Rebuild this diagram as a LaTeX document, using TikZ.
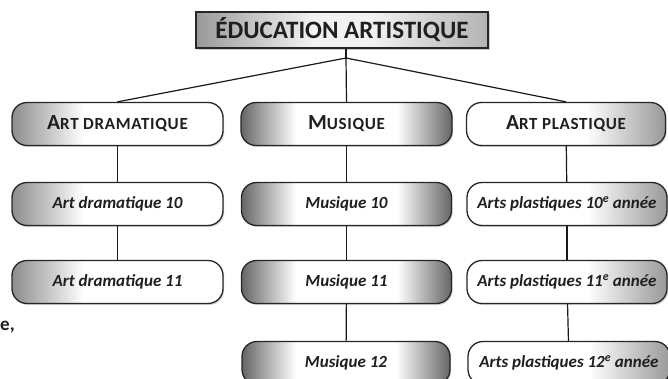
\documentclass[tikz,border=0pt]{standalone}
\usepackage{fontspec}
\setmainfont{Carlito}
\usetikzlibrary{shadows}
\newcommand\mysc[2]{{\addfontfeature{LetterSpace=4}\fontsize{21.5}{24}\selectfont #1}{\addfontfeature{LetterSpace=4}\fontsize{17}{19}\selectfont #2}}
\pgfdeclarehorizontalshading{shL}{100bp}{color(0bp)=(black!45); color(25bp)=(black!45); color(42bp)=(white); color(100bp)=(white)}
\pgfdeclarehorizontalshading{shM}{100bp}{color(0bp)=(black!60); color(25bp)=(black!60); color(38bp)=(white); color(62bp)=(white); color(75bp)=(black!60); color(100bp)=(black!60)}
\pgfdeclarehorizontalshading{shR}{100bp}{color(0bp)=(white); color(55bp)=(white); color(75bp)=(black!40); color(100bp)=(black!40)}
\pgfdeclarehorizontalshading{shT}{100bp}{color(0bp)=(black!40); color(25bp)=(black!40); color(45bp)=(black!5); color(55bp)=(black!5); color(75bp)=(black!30); color(100bp)=(black!30)}
\begin{document}
\begin{tikzpicture}[x=1pt,y=-1pt,
  box/.style={draw=black!85, line width=1.3pt, rounded corners=15pt, minimum height=43pt,
    inner sep=0pt, text=black!88,
    drop shadow={shadow xshift=1.2pt, shadow yshift=-1.5pt, opacity=0.35}},
  lvl/.style={box, font=\fontsize{17}{20}\selectfont\bfseries\itshape},
  head/.style={box, font=\bfseries},
  lgrad/.style={shading=shL},
  mgrad/.style={shading=shM},
  rgrad/.style={shading=shR},
  conn/.style={draw=black!90, line width=1.2pt}]
\useasboundingbox[fill=white] (0,0) rectangle (668,379);
\clip (0,0) rectangle (668,379);

% top
\node[draw=black!85, line width=2pt, minimum width=292pt, minimum height=36pt, inner sep=0pt,
  shading=shT, text=black!88,
  font=\fontsize{25}{28}\selectfont\bfseries,
  drop shadow={shadow xshift=1.5pt, shadow yshift=-2pt, opacity=0.4}]
  (top) at (342,30) {ÉDUCATION ARTISTIQUE};
\coordinate (hub) at (346,58);

% level 1
\node[head, lgrad, minimum width=211pt] (ad) at (117.5,124) {\mysc{A}{RT DRAMATIQUE}};
\node[head, mgrad, minimum width=211pt] (mu) at (346.5,124) {\mysc{M}{USIQUE}};
\node[head, rgrad, minimum width=199pt] (ap) at (566,124) {\mysc{A}{RT PLASTIQUE}};

% level 2
\node[lvl, lgrad, minimum width=211pt] (ad1) at (117.5,204) {Art dramatique 10};
\node[lvl, mgrad, minimum width=210pt] (mu1) at (346.5,204) {Musique 10};
\node[lvl, rgrad, minimum width=200pt] (ap1) at (567,204) {Arts plastiques 10\textsuperscript{e} année};

% level 3
\node[lvl, lgrad, minimum width=211pt] (ad2) at (117.5,282) {Art dramatique 11};
\node[lvl, mgrad, minimum width=210pt] (mu2) at (346.5,282) {Musique 11};
\node[lvl, rgrad, minimum width=200pt] (ap2) at (567,282) {Arts plastiques 11\textsuperscript{e} année};

% level 4
\node[lvl, mgrad, minimum width=208pt] (mu3) at (346,363) {Musique 12};
\node[lvl, rgrad, minimum width=202pt] (ap3) at (569,363) {Arts plastiques 12\textsuperscript{e} année};

% stray text
\node[font=\fontsize{19}{22}\selectfont\bfseries, text=black!88, inner sep=0pt, anchor=west] (frag) at (0,327) {e,};

% connectors
\draw[conn] (top.south -| hub) -- (hub);
\draw[conn] (hub) -- (ad.north);
\draw[conn] (hub) -- (mu.north);
\draw[conn] (hub) -- (ap.north);
\draw[conn] (ad) -- (ad1);
\draw[conn] (ad1) -- (ad2);
\draw[conn] (mu) -- (mu1);
\draw[conn] (mu1) -- (mu2);
\draw[conn] (mu2) -- (mu3);
\draw[conn] (ap) -- (ap1);
\draw[conn] (ap1) -- (ap2);
\draw[conn] (ap2) -- (ap3);
\end{tikzpicture}
\end{document}
